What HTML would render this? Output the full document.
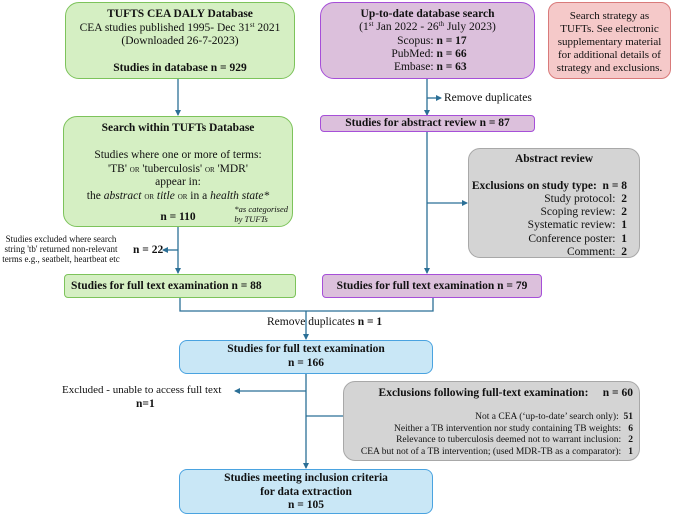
<!DOCTYPE html>
<html><head><meta charset="utf-8"><style>
body{margin:0;width:673px;height:515px;background:#fff;position:relative;overflow:hidden;font-family:"Liberation Serif",serif;color:#111}
.b{position:absolute;box-sizing:border-box;text-align:center;font-size:11.5px;line-height:13.5px;white-space:nowrap}
.g{background:#d5efc3;border:1.3px solid #7dc35b}
.p{background:#dcc0dc;border:1.3px solid #a64fd8}
.r{background:#f5c9c9;border:1.3px solid #d97a7a}
.y{background:#d4d4d4;border:1.3px solid #a8a8a8}
.c{background:#c9e7f6;border:1.3px solid #4aa3e0}
.t{position:absolute;font-size:11.5px;line-height:14px;white-space:nowrap}
b{font-weight:bold}
sup{font-size:7px;line-height:0;vertical-align:4px}
.sc{font-variant:small-caps;font-size:10.5px}
</style></head><body>
<svg width="673" height="515" style="position:absolute;left:0;top:0" fill="none" stroke="#2b6f96" stroke-width="1.3">
<defs><marker id="a" markerWidth="6" markerHeight="6" refX="5" refY="3" orient="auto" markerUnits="userSpaceOnUse"><path d="M0,0 L6,3 L0,6z" fill="#2b6f96" stroke="none"/></marker></defs>
<line x1="178" y1="79" x2="178" y2="115" marker-end="url(#a)"/>
<line x1="427" y1="79" x2="427" y2="115" marker-end="url(#a)"/>
<line x1="427" y1="98" x2="441" y2="98" marker-end="url(#a)"/>
<line x1="427" y1="131" x2="427" y2="273" marker-end="url(#a)"/>
<line x1="427" y1="203" x2="467" y2="203" marker-end="url(#a)"/>
<line x1="178" y1="227" x2="178" y2="273" marker-end="url(#a)"/>
<line x1="178" y1="250" x2="163" y2="250" marker-end="url(#a)"/>
<polyline points="180,298 180,311 433,311 433,298"/>
<line x1="306" y1="311" x2="306" y2="339" marker-end="url(#a)"/>
<line x1="306" y1="374" x2="306" y2="468" marker-end="url(#a)"/>
<line x1="306" y1="391" x2="235" y2="391" marker-end="url(#a)"/>
<line x1="306" y1="416" x2="348" y2="416" marker-end="url(#a)"/>
</svg>

<div class="b g" style="left:65px;top:2px;width:230px;height:77px;border-radius:14px;padding-top:5px"><b>TUFTS CEA DALY Database</b><br>CEA studies published 1995- Dec 31<sup>st</sup> 2021<br>(Downloaded 26-7-2023)<br><br><b>Studies in database n = 929</b></div>

<div class="b p" style="left:320px;top:2px;width:215px;height:77px;border-radius:14px;padding-top:5px;line-height:13.3px"><b>Up-to-date database search</b><br>(1<sup>st</sup> Jan 2022 - 26<sup>th</sup> July 2023)<br>
<span style="display:inline-block;width:60px;text-align:right">Scopus:</span> <b style="display:inline-block;width:45px;text-align:left">n = 17</b><br>
<span style="display:inline-block;width:60px;text-align:right">PubMed:</span> <b style="display:inline-block;width:45px;text-align:left">n = 66</b><br>
<span style="display:inline-block;width:60px;text-align:right">Embase:</span> <b style="display:inline-block;width:45px;text-align:left">n = 63</b></div>

<div class="b r" style="left:548px;top:2px;width:123px;height:77px;border-radius:10px;padding-top:7px;line-height:13px;font-size:11px">Search strategy as<br>TUFTs. See electronic<br>supplementary material<br>for additional details of<br>strategy and exclusions.</div>

<div class="t" style="left:444px;top:91px">Remove duplicates</div>

<div class="b p" style="left:320px;top:115px;width:215px;height:17px;border-radius:4px;line-height:15px"><b>Studies for abstract review n = 87</b></div>

<div class="b g" style="left:63px;top:116px;width:230px;height:111px;border-radius:14px;padding-top:5px"><b>Search within TUFTs Database</b><br><br>Studies where one or more of terms:<br>'TB' <span class="sc">or</span> 'tuberculosis' <span class="sc">or</span> 'MDR'<br>appear in:<br>the <i>abstract</i> <span class="sc">or</span> <i>title</i> <span class="sc">or</span> in a <i>health state*</i><br><div style="margin-top:8px"><b>n = 110</b></div>
<div style="position:absolute;right:4px;top:87px;font-size:8.5px;line-height:10px;font-style:italic;text-align:left">*as categorised<br>by TUFTs</div></div>

<div class="b y" style="left:468px;top:148px;width:172px;height:110px;border-radius:12px;padding:4px 12px 0 0;text-align:right;line-height:13.3px"><div style="text-align:center;padding-left:12px"><b>Abstract review</b></div><br><b>Exclusions on study type:&nbsp; n = 8</b><br>Study protocol:&nbsp; <b>2</b><br>Scoping review:&nbsp; <b>2</b><br>Systematic review:&nbsp; <b>1</b><br>Conference poster:&nbsp; <b>1</b><br>Comment:&nbsp; <b>2</b></div>

<div class="t" style="left:-5px;top:234px;width:132px;text-align:center;font-size:9px;line-height:10px">Studies excluded where search<br>string 'tb' returned non-relevant<br>terms e.g., seatbelt, heartbeat etc</div>
<div class="t" style="left:133px;top:243px"><b>n = 22</b></div>

<div class="b g" style="left:64px;top:274px;width:232px;height:24px;border-radius:4px;line-height:22px;text-align:left;padding-left:6px"><b>Studies for full text examination n = 88</b></div>
<div class="b p" style="left:322px;top:274px;width:220px;height:24px;border-radius:4px;line-height:22px"><b>Studies for full text examination n = 79</b></div>

<div class="t" style="left:267px;top:315px">Remove duplicates <b>n = 1</b></div>

<div class="b c" style="left:179px;top:340px;width:254px;height:34px;border-radius:8px;padding-top:2px;line-height:13.5px"><b>Studies for full text examination<br>n = 166</b></div>

<div class="t" style="left:62px;top:383px;font-size:11px">Excluded - unable to access full text</div>
<div class="t" style="left:136px;top:397px"><b>n=1</b></div>

<div class="b y" style="left:343px;top:381px;width:297px;height:80px;border-radius:12px;padding:4px 6px 0 0;text-align:right;font-size:9.5px;line-height:11.5px"><div style="font-size:11.5px;line-height:14px"><b>Exclusions following full-text examination:&nbsp;&nbsp;&nbsp;&nbsp;&nbsp;n = 60</b></div><div style="height:12px"></div>
Not a CEA (‘up-to-date’ search only):&nbsp; <b>51</b><br>Neither a TB intervention nor study containing TB weights:&nbsp;&nbsp; <b>6</b><br>Relevance to tuberculosis deemed not to warrant inclusion:&nbsp;&nbsp; <b>2</b><br>CEA but not of a TB intervention; (used MDR-TB as a comparator):&nbsp;&nbsp; <b>1</b></div>

<div class="b c" style="left:179px;top:469px;width:254px;height:45px;border-radius:8px;padding-top:2px;line-height:13.5px"><b>Studies meeting inclusion criteria<br>for data extraction<br>n = 105</b></div>
</body></html>
